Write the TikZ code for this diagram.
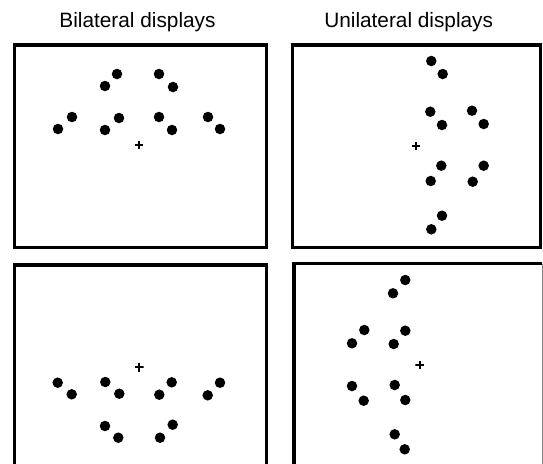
\documentclass[tikz,border=0pt]{standalone}
\usepackage{fontspec}
\setmainfont{Liberation Sans}
\usetikzlibrary{positioning}

\begin{document}
\begin{tikzpicture}[
    x=1pt, y=-1pt,
    panel/.style={draw=black, line width=3.2pt},
    dot/.style={circle, fill=black, inner sep=0pt, minimum size=10.5pt},
    fixation/.style={inner sep=0pt, minimum size=8.5pt,
        path picture={\draw[line width=2.2pt]
            (path picture bounding box.north) -- (path picture bounding box.south)
            (path picture bounding box.west) -- (path picture bounding box.east);}},
    heading/.style={anchor=base, inner sep=0pt, font=\fontsize{20.8}{24}\selectfont}
]
\useasboundingbox (0,0) rectangle (543,463);
\clip (0,0) rectangle (543,463);

% Column headings
\node[heading] (bilat) at (137.5,27.7) {Bilateral displays};
\node[heading] (unilat) at (408.7,27.7) {Unilateral displays};

% Frames
\draw[panel] (14.7,45) rectangle (266.5,247.5);
\draw[panel] (292.7,45) rectangle (540.7,247.5);
\draw[panel] (14.7,265) rectangle (266.5,480);
\draw[panel] (542.3,263.7) -- (294,263.7) -- (294,480);
\draw[gray, line width=0.6pt] (542.3,263.7) -- (542.3,480);

% Bilateral, upper
\node[fixation] (fixA) at (139,145) {};
\foreach \x/\y [count=\i] in {105/86, 117/74, 159/74, 173/87,
    58/129, 72/117, 105/130, 119/118, 159/117, 172/130, 208/117, 220/129}
    \node[dot] (dotA\i) at (\x,\y) {};

% Unilateral, upper
\node[fixation] (fixB) at (416,146) {};
\foreach \x/\y [count=\i] in {431.3/61, 442.7/74, 430.3/111.7, 442/125,
    472/110.7, 483.7/124, 441.3/165.7, 430.7/181, 483.7/165.7, 472.7/181.7,
    442/215.7, 431.3/229.3}
    \node[dot] (dotB\i) at (\x,\y) {};

% Bilateral, lower
\node[fixation] (fixC) at (139.3,367.3) {};
\foreach \x/\y [count=\i] in {57.7/382.7, 71.7/394.3, 105.3/382, 119.3/393.7,
    159.3/394.7, 171.7/382.3, 207.7/395.3, 220/382.7,
    105/426, 118.3/437.7, 160/437.7, 172.7/424.7}
    \node[dot] (dotC\i) at (\x,\y) {};

% Unilateral, lower
\node[fixation] (fixD) at (419.7,365) {};
\foreach \x/\y [count=\i] in {405.3/280, 393/293.3, 364.3/330, 352/343.3,
    405.3/330.7, 393.7/344, 352/386, 363.7/400.7, 394.7/385, 405.3/400,
    394.7/434.3, 404.7/449.3}
    \node[dot] (dotD\i) at (\x,\y) {};

\end{tikzpicture}
\end{document}
